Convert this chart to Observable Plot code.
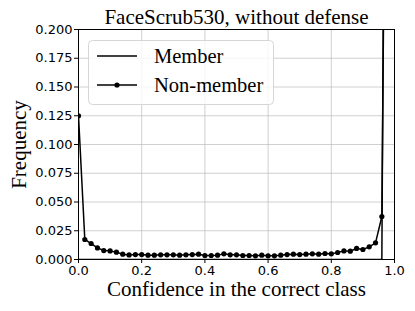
<!DOCTYPE html>
<html><head><meta charset="utf-8">
<script src="https://cdn.jsdelivr.net/npm/d3@7"></script>
<script src="https://cdn.jsdelivr.net/npm/@observablehq/plot@0.6"></script>
<style>
body{margin:0;background:#fff;}
#chart{position:relative;width:415px;height:311px;}
</style>
</head><body><div id="chart"></div>
<script>
const title = "FaceScrub530, without defense";
const xLabel = "Confidence in the correct class";
const yLabel = "Frequency";
const seriesNames = ["Member", "Non-member"];
const bins = [0.00,0.02,0.04,0.06,0.08,0.10,0.12,0.14,0.16,0.18,0.20,0.22,0.24,0.26,0.28,0.30,0.32,0.34,0.36,0.38,0.40,0.42,0.44,0.46,0.48,0.50,0.52,0.54,0.56,0.58,0.60,0.62,0.64,0.66,0.68,0.70,0.72,0.74,0.76,0.78,0.80,0.82,0.84,0.86,0.88,0.90,0.92,0.94,0.96,0.98];
const nonMember = [0.125,0.0174,0.0139,0.0101,0.0078,0.0075,0.0064,0.0046,0.0040,0.0043,0.0043,0.0038,0.0038,0.0041,0.0041,0.0041,0.0038,0.0041,0.0043,0.0046,0.0035,0.0035,0.0038,0.0049,0.0041,0.0041,0.0035,0.0035,0.0032,0.0038,0.0032,0.0032,0.0038,0.0043,0.0046,0.0043,0.0046,0.0049,0.0046,0.0052,0.0049,0.0061,0.0075,0.0072,0.0096,0.0087,0.0110,0.0145,0.0374,0.69];
const member = [0,0,0,0,0,0,0,0,0,0,0,0,0,0,0,0,0,0,0,0,0,0,0,0,0,0,0,0,0,0,0,0,0,0,0,0,0,0,0,0,0,0,0,0,0,0,0,0,0.0003,0.95];
const xTicks = [0,0.2,0.4,0.6,0.8,1.0];
const yTicks = [0,0.025,0.05,0.075,0.1,0.125,0.15,0.175,0.2];

const mem = bins.map((x,i)=>({x, y: member[i]}));
const non = bins.map((x,i)=>({x, y: nonMember[i]}));
const serif = "'Liberation Serif', 'Times New Roman', serif";

const plot = Plot.plot({
  width: 415, height: 311,
  marginTop: 29, marginLeft: 78, marginRight: 21, marginBottom: 52,
  style: {fontFamily: "'DejaVu Sans', sans-serif", fontSize: "13px", color: "#000", background: "#fff"},
  x: {domain: [0,1]},
  y: {domain: [0,0.2]},
  marks: [
    Plot.gridX(xTicks, {stroke: "#b0b0b0", strokeOpacity: 0.6, strokeWidth: 1}),
    Plot.gridY(yTicks, {stroke: "#b0b0b0", strokeOpacity: 0.6, strokeWidth: 1}),
    Plot.line(mem, {x: "x", y: "y", stroke: "#000", strokeWidth: 1.5, clip: true}),
    Plot.line(non, {x: "x", y: "y", stroke: "#000", strokeWidth: 1.5, clip: true}),
    Plot.dot(non, {x: "x", y: "y", fill: "#000", r: 2.6, clip: true}),
    Plot.frame({stroke: "#000", strokeWidth: 1}),
    Plot.axisX(xTicks, {tickFormat: d3.format(".1f"), tickSize: 4, tickPadding: 2, label: null, fontSize: 13}),
    Plot.axisY(yTicks, {tickFormat: d3.format(".3f"), tickSize: 4, tickPadding: 2, label: null, fontSize: 13}),
    Plot.text([title], {frameAnchor: "top", lineAnchor: "middle", dy: -12, fontFamily: serif, fontSize: 21}),
    Plot.text([xLabel], {frameAnchor: "bottom", lineAnchor: "middle", dy: 29.5, fontFamily: serif, fontSize: 21}),
    Plot.text([yLabel], {frameAnchor: "left", textAnchor: "middle", lineAnchor: "middle", dx: -59, rotate: -90, fontFamily: serif, fontSize: 21})
  ]
});
document.getElementById("chart").appendChild(plot);

// legend
const svg = d3.select(plot);
const lg = svg.append("g");
lg.append("rect").attr("x", 88.5).attr("y", 40.5).attr("width", 185).attr("height", 64)
  .attr("rx", 4).attr("fill", "#fff").attr("fill-opacity", 0.8).attr("stroke", "#d6d6d6");
const rows = [{name: seriesNames[0], y: 56, dot: false}, {name: seriesNames[1], y: 85, dot: true}];
rows.forEach(r => {
  lg.append("line").attr("x1", 97).attr("x2", 137).attr("y1", r.y).attr("y2", r.y).attr("stroke", "#000").attr("stroke-width", 1.5);
  if (r.dot) lg.append("circle").attr("cx", 117).attr("cy", r.y).attr("r", 2.6).attr("fill", "#000");
  lg.append("text").attr("x", 154).attr("y", r.y).attr("dy", "0.35em").attr("text-anchor", "start")
    .attr("font-family", serif).attr("font-size", 20.5).attr("fill", "#000").text(r.name);
});
</script>
</body></html>
